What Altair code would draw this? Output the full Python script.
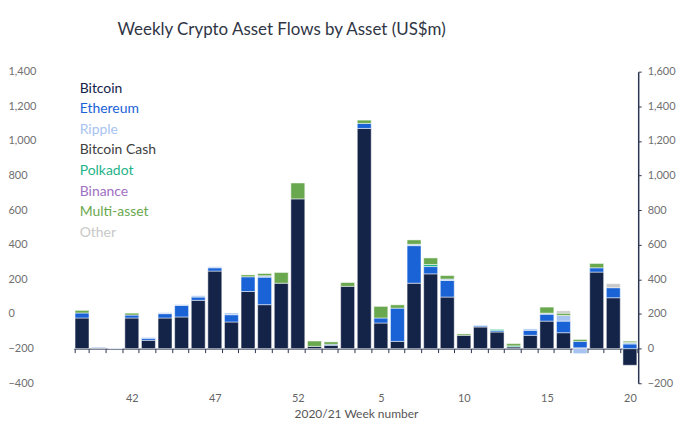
import altair as alt
import pandas as pd

# ---- data -------------------------------------------------------------
weeks = [str(w) for w in range(39, 53)] + [str(w) for w in range(1, 21)]
labeled_weeks = ["42", "47", "52", "5", "10", "15", "20"]

series = ["Bitcoin", "Ethereum", "Ripple", "Bitcoin Cash",
          "Polkadot", "Binance", "Multi-asset", "Other"]
series_colors = ["#142348", "#1a63d6", "#a7c3f0", "#404040",
                 "#1fb389", "#a070c4", "#6aa84f", "#c8c8c8"]

bitcoin = [177, 4, 0, 177, 48, 177, 183, 279, 448, 154, 330, 254, 378, 865,
           13, 19, 360, 1272, 148, 42, 378, 432, 298, 77, 125, 96, 10, 77,
           159, 92, 5, 442, 294, -96]
ethereum = [29, 3, 2, 17, 12, 25, 67, 19, 19, 42, 85, 159, 0, 0,
            0, 6, 0, 29, 29, 192, 217, 42, 96, 0, 6, 8, 0, 29,
            40, 67, 37, 25, 58, 27]
ripple = [0, 0, 2, 0, 5, 6, 5, 8, 6, 10, 0, 8, 0, 0,
          0, 0, 0, 0, 0, 0, 8, 0, 8, 0, 5, 0, 0, 8,
          6, 33, -29, 0, 0, 8]
bitcoin_cash = [0] * 34
polkadot = [0, 0, 0, 0, 0, 0, 0, 0, 0, 0, 0, 0, 0, 0,
            0, 0, 0, 0, 0, 0, 0, 12, 0, 0, 0, 7, 6, 0,
            0, 0, 0, 0, 0, 0]
binance = [0] * 34
multi_asset = [15, 0, 0, 11, 0, 0, 0, 0, 0, 0, 11, 13, 62, 92,
               31, 14, 22, 19, 67, 19, 25, 38, 20, 8, 0, 0, 13, 0,
               35, 13, 11, 25, 0, 8]
other = [0, 0, 0, 0, 0, 0, 0, 0, 0, 0, 0, 0, 0, 0,
         0, 0, 0, 0, 0, 0, 0, 0, 0, 0, 0, 0, 0, 0,
         0, 13, 0, 0, 23, 0]

all_values = [bitcoin, ethereum, ripple, bitcoin_cash,
              polkadot, binance, multi_asset, other]

rows = []
for i, (name, vals) in enumerate(zip(series, all_values)):
    for w, v in zip(weeks, vals):
        if v != 0:
            rows.append({"week": w, "asset": name, "flow": v, "order": i})
df = pd.DataFrame(rows)

# ---- layout constants -------------------------------------------------
W, H = 567, 313
Y_DOMAIN = [-200, 1600]
zero_offset = -H * (0 - Y_DOMAIN[0]) / (Y_DOMAIN[1] - Y_DOMAIN[0])
FONT = "Lato"
AXIS_COLOR = "#2b3550"

label_test = "indexof([" + ",".join("'%s'" % w for w in labeled_weeks) + "], datum.label) >= 0"

y_scale = alt.Scale(domain=Y_DOMAIN, nice=False, zero=False)

bars = alt.Chart(df).mark_bar(stroke="white", strokeWidth=0.5).encode(
    x=alt.X(
        "week:N", sort=weeks,
        scale=alt.Scale(paddingInner=0.16, paddingOuter=0.08),
        axis=alt.Axis(
            title="2020/21 Week number", labelAngle=0,
            labelExpr=label_test + " ? datum.label : ''",
            labelOverlap=False, tickBand="extent", tickSize=4,
            tickColor=AXIS_COLOR, domainColor=AXIS_COLOR, domainWidth=1,
            offset=zero_offset, labelPadding=40, titlePadding=5,
            labelColor="#666666", labelFontSize=11, labelFont=FONT,
            titleColor="#555555", titleFontSize=12, titleFont=FONT,
            titleFontWeight="normal", grid=False,
        ),
    ),
    y=alt.Y(
        "flow:Q", stack="zero", scale=y_scale,
        axis=alt.Axis(
            orient="right", title=None, values=list(range(-200, 1601, 200)),
            format=",.0f", tickSize=3, tickColor=AXIS_COLOR,
            domainColor=AXIS_COLOR, domainWidth=1.5, labelPadding=6,
            labelColor="#707070", labelFontSize=11, labelFont=FONT, grid=False,
        ),
    ),
    color=alt.Color(
        "asset:N",
        scale=alt.Scale(domain=series, range=series_colors),
        legend=alt.Legend(
            title=None, orient="none", legendX=-8, legendY=10, padding=0,
            symbolSize=0, symbolStrokeWidth=0, symbolOpacity=0,
            labelOffset=0, rowPadding=6.7, labelFontSize=14, labelFont=FONT,
            labelColor={"expr": "scale('color', datum.value)"},
            labelLimit=200,
        ),
    ),
    order=alt.Order("order:Q", sort="ascending"),
)

left_axis = alt.Chart(df).mark_rule(color=AXIS_COLOR, strokeWidth=0).encode(
    y=alt.YDatum(
        0, type="quantitative", scale=y_scale,
        axis=alt.Axis(
            orient="left", title=None, values=list(range(-200, 1601, 200)),
            labelExpr="format(datum.value - 200, ',')",
            domain=False, ticks=False, tickSize=0, labelAlign="left",
            labelPadding=66, labelColor="#707070", labelFontSize=11,
            labelFont=FONT, grid=False,
        ),
    ),
)

chart = alt.layer(bars, left_axis).resolve_scale(y="shared").resolve_axis(
    y="independent"
).properties(
    width=W, height=H,
    padding={"top": 12, "left": 0, "right": 5, "bottom": 5},
    title=alt.TitleParams(
        "Weekly Crypto Asset Flows by Asset (US$m)", anchor="start",
        frame="group", dx=44, offset=27, fontSize=17, font=FONT,
        fontWeight="normal", color="#2f3544",
    ),
).configure(
    background="white", view=alt.ViewConfig(strokeWidth=0, stroke="transparent")
)

chart.save("out.html", embed_options={"renderer": "svg", "actions": False})
